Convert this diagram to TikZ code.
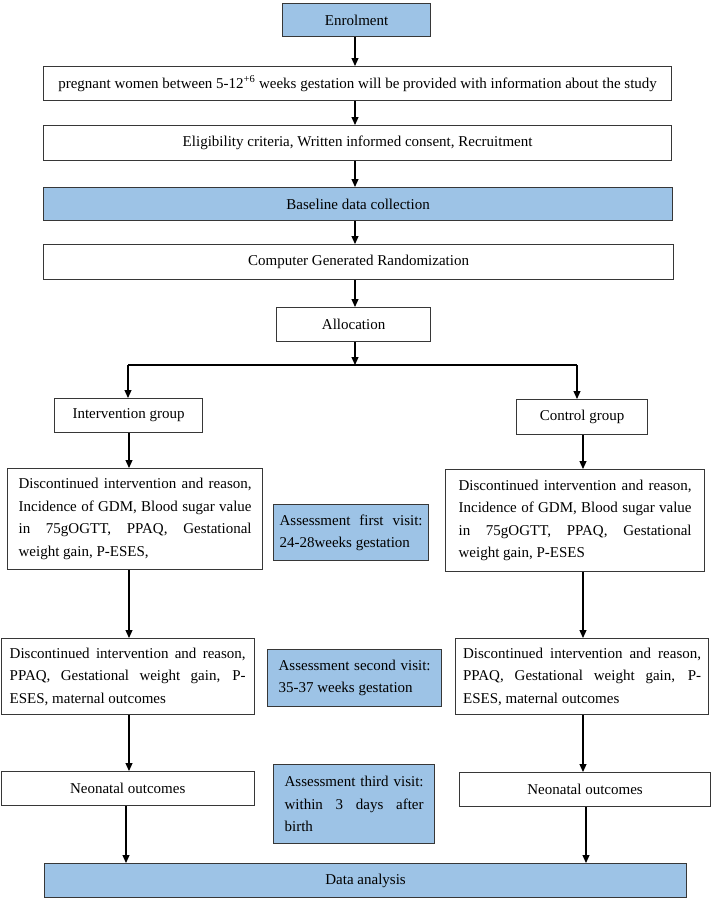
\documentclass[tikz,border=0pt]{standalone}
\usepackage{fontspec}
\setmainfont{Liberation Serif}
\usetikzlibrary{arrows.meta,calc}
\definecolor{boxblue}{RGB}{157,195,230}
\definecolor{boxline}{RGB}{55,55,55}
\begin{document}
\begin{tikzpicture}[x=1pt,y=-1pt,
  box/.style={draw=boxline, line width=1.2pt, fill=white, anchor=north west, inner sep=0pt,
    font=\fontsize{15}{22.5}\selectfont, align=center},
  bluebox/.style={box, fill=boxblue},
  para/.style={align=justify, text width=#1},
  arr/.style={draw=black, line width=1.1pt, -{Triangle[length=8pt,width=7pt]}},
  plain/.style={draw=black, line width=1.1pt}]
\useasboundingbox (0,0) rectangle (711,898);

\node[bluebox, minimum width=148pt, minimum height=33pt] (enrol) at (282,3) {Enrolment};
\node[box, minimum width=628pt, minimum height=34pt] (preg) at (43,66)
  {pregnant women between 5-12\textsuperscript{+6} weeks gestation will be provided with information about the study};
\node[box, minimum width=628pt, minimum height=35pt] (elig) at (43,125)
  {Eligibility criteria, Written informed consent, Recruitment};
\node[bluebox, minimum width=629pt, minimum height=33pt] (base) at (43,187) {Baseline data collection};
\node[box, minimum width=630pt, minimum height=35pt] (rand) at (43,244) {Computer Generated Randomization};
\node[box, minimum width=154pt, minimum height=34pt] (alloc) at (276,307) {Allocation};

\node[box, minimum width=148pt, minimum height=34pt] (interv) at (54,398) {Intervention group};
\node[box, minimum width=131pt, minimum height=35pt] (control) at (516,399) {Control group};

\node[box, para=233pt, minimum width=255pt, minimum height=101pt] (L1) at (7,468)
  {Discontinued intervention and reason,\linebreak Incidence of GDM, Blood sugar value\linebreak in 75gOGTT, PPAQ, Gestational\linebreak weight gain, P-ESES,};
\node[bluebox, para=143pt, minimum width=155pt, minimum height=56pt] (A1) at (273,504)
  {Assessment first visit:\linebreak 24-28weeks gestation};
\node[box, para=233pt, minimum width=259pt, minimum height=102pt] (R1) at (445,469)
  {Discontinued intervention and reason,\linebreak Incidence of GDM, Blood sugar value\linebreak in 75gOGTT, PPAQ, Gestational\linebreak weight gain, P-ESES};

\node[box, para=236pt, minimum width=253pt, minimum height=76pt] (L2) at (0.6,638)
  {Discontinued intervention and reason,\linebreak PPAQ, Gestational weight gain, P-\linebreak ESES, maternal outcomes};
\node[bluebox, para=152pt, minimum width=174pt, minimum height=57pt] (A2) at (267,649)
  {Assessment second visit:\linebreak 35-37 weeks gestation};
\node[box, para=238pt, minimum width=253pt, minimum height=76pt] (R2) at (455,638)
  {Discontinued intervention and reason,\linebreak PPAQ, Gestational weight gain, P-\linebreak ESES, maternal outcomes};

\node[box, minimum width=253pt, minimum height=34pt] (N1) at (0.6,771) {Neonatal outcomes};
\node[bluebox, para=139pt, minimum width=161pt, minimum height=79pt] (A3) at (273,764)
  {Assessment third visit:\linebreak within 3 days after\linebreak birth};
\node[box, minimum width=251pt, minimum height=34pt] (N2) at (459,772) {Neonatal outcomes};

\node[bluebox, minimum width=642pt, minimum height=34pt] (DA) at (44,863) {Data analysis};

% main column
\coordinate (mc) at (355,0);
\draw[arr] (mc |- enrol.south) -- (mc |- preg.north);
\draw[arr] (mc |- preg.south) -- (mc |- elig.north);
\draw[arr] (mc |- elig.south) -- (mc |- base.north);
\draw[arr] (mc |- base.south) -- (mc |- rand.north);
\draw[arr] (mc |- rand.south) -- (mc |- alloc.north);
\coordinate (br) at (355,365);
\coordinate (bl) at (128,365);
\coordinate (brr) at (577,365);
\draw[arr] (br |- alloc.south) -- (br);
\draw[plain] (bl) -- (brr);
\draw[arr] (bl) -- (bl |- interv.north);
\draw[arr] (brr) -- (brr |- control.north);

% left column
\coordinate (lc) at (129,0);
\coordinate (lc2) at (126,0);
\draw[arr] (lc |- interv.south) -- (lc |- L1.north);
\draw[arr] (lc |- L1.south) -- (lc |- L2.north);
\draw[arr] (lc |- L2.south) -- (lc |- N1.north);
\draw[arr] (lc2 |- N1.south) -- (lc2 |- DA.north);

% right column
\coordinate (rc) at (583,0);
\coordinate (rc2) at (586,0);
\draw[arr] (rc |- control.south) -- (rc |- R1.north);
\draw[arr] (rc |- R1.south) -- (rc |- R2.north);
\draw[arr] (rc |- R2.south) -- (rc |- N2.north);
\draw[arr] (rc2 |- N2.south) -- (rc2 |- DA.north);
\end{tikzpicture}
\end{document}
